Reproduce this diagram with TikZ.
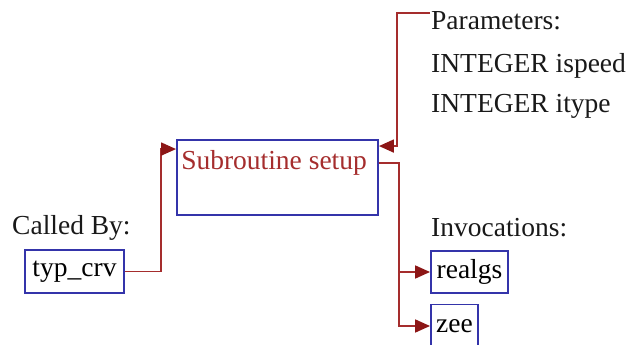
\documentclass[tikz,border=0pt]{standalone}
\usepackage{fontspec}
\setmainfont{Liberation Serif}
\usepackage{tikz}
\usetikzlibrary{arrows.meta}
\definecolor{boxblue}{RGB}{52,52,170}
\definecolor{linkred}{RGB}{165,45,45}
\definecolor{tipred}{RGB}{140,22,22}

\begin{document}
\begin{tikzpicture}[x=1pt,y=-1pt,font=\fontsize{27.5}{32}\selectfont,
  >={Triangle[length=15pt,width=13pt,color=tipred]},
  routine/.style={rectangle,draw=boxblue,line width=1.9pt,inner sep=0pt,text=black},
  caption/.style={anchor=west,inner sep=0pt,text=black!90},
  link/.style={draw=linkred,line width=1.8pt}]
\useasboundingbox (0,0) rectangle (633,345);
\node[routine,minimum width=201pt,minimum height=75pt,
  label={[anchor=north west,inner sep=0pt,text=linkred,xshift=5pt,yshift=-11pt]north west:Subroutine setup}] (setup) at (277.5,177.5) {};
\node[caption] (called-by) at (12,228) {Called By:};
\node[routine,minimum width=99pt,minimum height=43pt] (typ-crv) at (74.5,271.5) {typ\_crv};
\node[caption] (params) at (431,21) {Parameters:};
\node[caption] (ispeed) at (431,66) {INTEGER ispeed};
\node[caption] (itype) at (431,106) {INTEGER itype};
\node[caption] (invoc) at (431,228) {Invocations:};
\node[routine,minimum width=77pt,minimum height=42pt] (realgs) at (469.5,272) {realgs};
\node[routine,minimum width=47pt,minimum height=43pt] (zee) at (454.5,326) {zee};
\coordinate (params-in) at (430,13);
\draw[link,->] (typ-crv.east) -- ++(36,0) |- ([yshift=-10pt]setup.north west);
\draw[link,->] (params-in) -- ++(-33,0) |- ([yshift=-7pt]setup.north east);
\draw[link,->] ([yshift=-24pt]setup.north east) -- ++(20,0) |- (realgs.west);
\draw[link,->] ([yshift=-24pt]setup.north east) -- ++(20,0) |- (zee.west);
\end{tikzpicture}
\end{document}
